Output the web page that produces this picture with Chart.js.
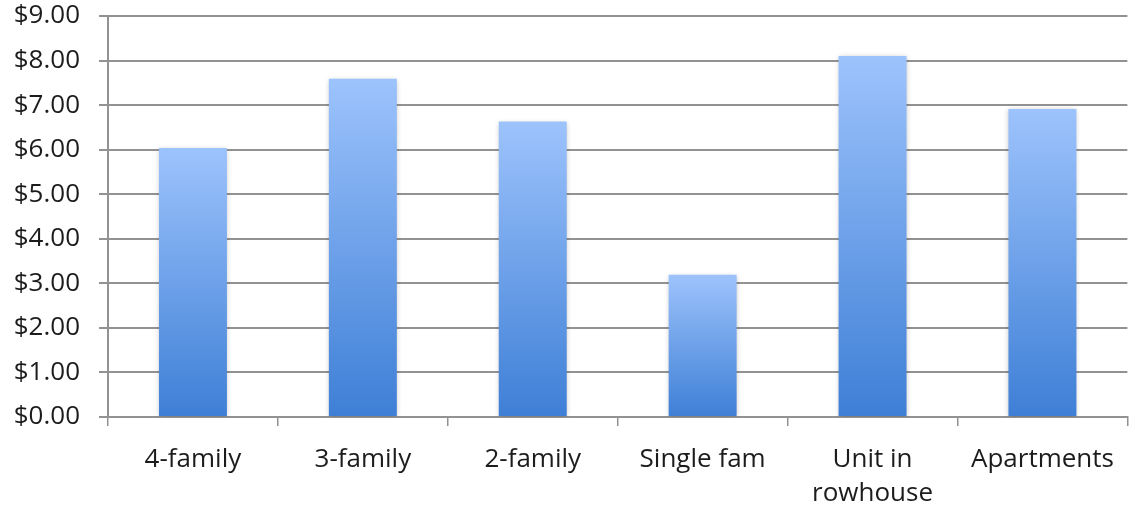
<!DOCTYPE html>
<html>
<head>
<meta charset="utf-8">
<script src="https://cdn.jsdelivr.net/npm/chart.js@4.4.1/dist/chart.umd.min.js"></script>
<style>
    html, body { margin: 0; padding: 0; background: #fff; }
    #costChart { display: block; }
</style>
</head>
<body>
<canvas id="costChart" width="1131" height="510"></canvas>
<script>
const housingTypes = ["4-family", "3-family", "2-family", "Single fam", ["Unit in", "rowhouse"], "Apartments"];
const costValues = [6.04, 7.59, 6.63, 3.19, 8.10, 6.91];
const yTicks = [0, 1, 2, 3, 4, 5, 6, 7, 8, 9];

const gridGrey = 'rgb(146,146,146)';
const labelFont = { family: "'Open Sans', sans-serif", size: 26, lineHeight: 1.3 };

// vertical gradient per bar, light on top, darker blue at the base
function barGradient(context) {
    const chart = context.chart;
    const area = chart.chartArea;
    if (!area) return '#7aa6ec';
    const yScale = chart.scales.y;
    const top = yScale.getPixelForValue(context.raw);
    const bottom = yScale.getPixelForValue(0);
    const grad = chart.ctx.createLinearGradient(0, top, 0, bottom);
    grad.addColorStop(0, '#9dc3fc');
    grad.addColorStop(1, '#3e7fd6');
    return grad;
}

// soft shadow around the bars
const barShadow = {
    id: 'barShadow',
    beforeDatasetsDraw(chart) {
        const ctx = chart.ctx;
        ctx.save();
        ctx.shadowColor = 'rgba(0,0,0,0.25)';
        ctx.shadowBlur = 5;
        ctx.shadowOffsetX = 0;
        ctx.shadowOffsetY = 1;
    },
    afterDatasetsDraw(chart) {
        chart.ctx.restore();
    }
};

let costChart = new Chart(document.getElementById("costChart").getContext("2d"), {
    type: "bar",
    data: {
        labels: housingTypes,
        datasets: [{
            data: costValues,
            backgroundColor: barGradient,
            borderWidth: 0,
            barPercentage: 0.8,
            categoryPercentage: 0.5
        }]
    },
    plugins: [barShadow],
    options: {
        responsive: false,
        animation: false,
        layout: {
            padding: { top: 0, right: 1, left: 0, bottom: 0 }
        },
        plugins: {
            legend: { display: false },
            tooltip: { enabled: false }
        },
        scales: {
            x: {
                grid: {
                    offset: true,
                    drawOnChartArea: false,
                    drawTicks: true,
                    tickLength: 9,
                    color: gridGrey,
                    lineWidth: 1.5
                },
                border: { color: gridGrey, width: 2 },
                ticks: {
                    color: '#1c1c1c',
                    font: labelFont,
                    padding: 17,
                    maxRotation: 0,
                    autoSkip: false
                },
                afterFit(scale) { scale.height = 93; }
            },
            y: {
                min: 0,
                max: 9,
                afterBuildTicks(scale) {
                    scale.ticks = yTicks.map(v => ({ value: v }));
                },
                grid: {
                    color: gridGrey,
                    lineWidth: 2,
                    tickLength: 9
                },
                border: { color: gridGrey, width: 2 },
                ticks: {
                    color: '#1c1c1c',
                    font: labelFont,
                    padding: 19,
                    callback: v => '$' + Number(v).toFixed(2)
                },
                afterFit(scale) {
                    scale.width = 108;
                    scale.paddingTop = 16;
                    scale.paddingBottom = 0;
                }
            }
        }
    }
});
</script>
</body>
</html>
